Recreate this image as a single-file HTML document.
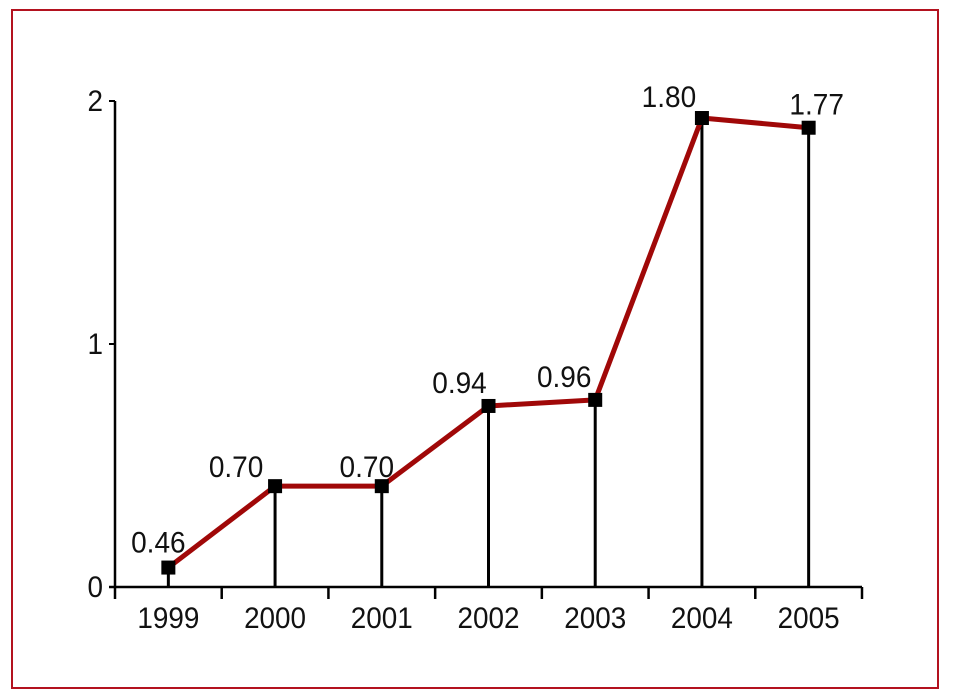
<!DOCTYPE html>
<html><head><meta charset="utf-8"><style>
html,body{margin:0;padding:0;background:#fff;}
svg{display:block;}
text{font-family:"Liberation Sans Narrow","Liberation Sans",sans-serif;font-size:30px;fill:#111;}
</style></head><body>
<svg width="953" height="694" xmlns="http://www.w3.org/2000/svg">
<rect x="12" y="10" width="926" height="678" fill="none" stroke="#b3121f" stroke-width="2"/>
<g id="chart"></g>
</svg>
<script>
const categories=["1999","2000","2001","2002","2003","2004","2005"];
const values=[0.08,0.415,0.415,0.745,0.77,1.93,1.89];
const valueLabels=["0.46","0.70","0.70","0.94","0.96","1.80","1.77"];
const yTicks=[0,1,2];
const labelDx=[-10,-39,-15,-29,-31,-33,8];
const labelDy=[-15,-9,-9,-13,-13,-11,-13];
const NS="http://www.w3.org/2000/svg";
const g=document.getElementById('chart');
const x0=115,x1=862,yBase=587,yTop=101;
const step=(x1-x0)/categories.length;
function xs(i){return x0+step*(i+0.5);}
function ys(v){return yBase-(yBase-yTop)*v/2;}
function tl(s){let n=0;for(const c of String(s))n+=(c==='.')?8:15.5;return n;}
function mk(t,a){const e=document.createElementNS(NS,t);for(const k in a)e.setAttribute(k,a[k]);g.appendChild(e);return e;}
function tx(s,x,y,anchor){const e=mk('text',{x:x,y:y,'text-anchor':anchor,textLength:tl(s),lengthAdjust:'spacingAndGlyphs'});e.textContent=s;return e;}
let e;
e=mk('line',{x1:x0,y1:yTop,x2:x0,y2:yBase,stroke:'#000','stroke-width':2.5});


e=mk('line',{x1:x0-6,y1:yBase,x2:x1,y2:yBase,stroke:'#000','stroke-width':2.5});


yTicks.forEach(v=>{
 e=mk('line',{x1:x0-6,y1:ys(v),x2:x0,y2:ys(v),stroke:'#000','stroke-width':2});
 
 
 e=tx(String(v),x0-12,ys(v)+10,'end');
 
 
});
for(let i=0;i<=categories.length;i++){
 e=mk('line',{x1:x0+step*i,y1:yBase,x2:x0+step*i,y2:yBase+12,stroke:'#000','stroke-width':2.5});
 
 
}
categories.forEach((c,i)=>{
 e=tx(c,xs(i),628,'middle');
 
 
 e=mk('line',{x1:xs(i),y1:ys(values[i]),x2:xs(i),y2:yBase,stroke:'#000','stroke-width':3});
 
 
});
e=mk('polyline',{points:values.map((v,i)=>xs(i)+','+ys(v)).join(' '),fill:'none',stroke:'#a00808','stroke-width':5,'stroke-linejoin':'round'});


values.forEach((v,i)=>{
 e=mk('rect',{x:xs(i)-7,y:ys(v)-7,width:14,height:14,fill:'#000'});
 
 
 e=tx(valueLabels[i],xs(i)+labelDx[i],ys(v)+labelDy[i],'middle');
 
 
});
</script>
</body></html>
